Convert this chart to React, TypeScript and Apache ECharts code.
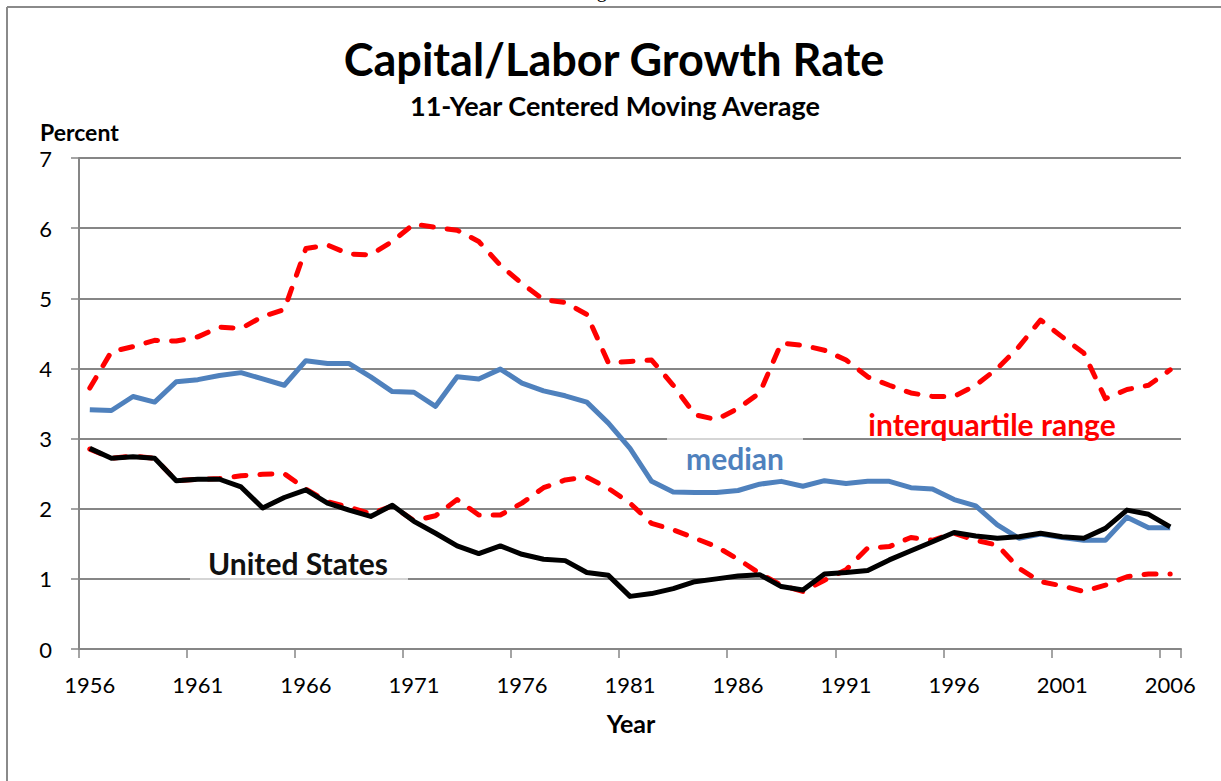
import React, { useEffect, useRef } from "react";
import * as echarts from "echarts";

const years = [
  "1956","1957","1958","1959","1960","1961","1962","1963","1964","1965",
  "1966","1967","1968","1969","1970","1971","1972","1973","1974","1975",
  "1976","1977","1978","1979","1980","1981","1982","1983","1984","1985",
  "1986","1987","1988","1989","1990","1991","1992","1993","1994","1995",
  "1996","1997","1998","1999","2000","2001","2002","2003","2004","2005","2006",
];

const median = [
  3.41, 3.40, 3.60, 3.52, 3.81, 3.84, 3.90, 3.94, 3.85, 3.76,
  4.11, 4.07, 4.07, 3.88, 3.67, 3.66, 3.46, 3.88, 3.85, 3.99,
  3.79, 3.68, 3.61, 3.52, 3.22, 2.86, 2.39, 2.24, 2.23, 2.23,
  2.26, 2.35, 2.39, 2.32, 2.40, 2.36, 2.39, 2.39, 2.30, 2.28,
  2.13, 2.04, 1.77, 1.58, 1.64, 1.59, 1.55, 1.55, 1.88, 1.73, 1.73,
];

const unitedStates = [
  2.86, 2.72, 2.74, 2.72, 2.40, 2.42, 2.42, 2.31, 2.01, 2.16,
  2.27, 2.08, 1.98, 1.89, 2.05, 1.82, 1.65, 1.47, 1.36, 1.47,
  1.35, 1.28, 1.26, 1.09, 1.05, 0.75, 0.79, 0.86, 0.96, 1.00,
  1.04, 1.06, 0.89, 0.84, 1.07, 1.09, 1.12, 1.27, 1.40, 1.53,
  1.66, 1.61, 1.58, 1.60, 1.65, 1.60, 1.58, 1.72, 1.98, 1.92, 1.74,
];

const iqrUpper = [
  3.72, 4.24, 4.31, 4.40, 4.39, 4.45, 4.59, 4.57, 4.74, 4.84,
  5.71, 5.76, 5.63, 5.62, 5.81, 6.06, 6.01, 5.97, 5.81, 5.47,
  5.21, 4.98, 4.94, 4.77, 4.08, 4.10, 4.12, 3.76, 3.34, 3.27,
  3.43, 3.65, 4.36, 4.33, 4.26, 4.12, 3.88, 3.76, 3.65, 3.60,
  3.60, 3.76, 4.00, 4.31, 4.69, 4.45, 4.22, 3.57, 3.70, 3.76, 3.98,
];

const iqrLower = [
  2.85, 2.72, 2.75, 2.72, 2.40, 2.42, 2.43, 2.47, 2.49, 2.50,
  2.28, 2.10, 2.02, 1.93, 2.04, 1.83, 1.90, 2.13, 1.91, 1.91,
  2.08, 2.30, 2.41, 2.45, 2.29, 2.08, 1.79, 1.70, 1.58, 1.46,
  1.28, 1.08, 0.91, 0.82, 0.98, 1.13, 1.44, 1.46, 1.59, 1.55,
  1.65, 1.55, 1.48, 1.15, 0.96, 0.90, 0.82, 0.91, 1.03, 1.07, 1.07,
];

const FONT = "Lato";
const GRID_COLOR = "#868686";
const BLUE = "#4f81bd";
const RED = "#ff0000";

export default function App() {
  const ref = useRef<HTMLDivElement>(null);

  useEffect(() => {
    document.body.style.margin = "0";
    if (!ref.current) return;
    const chart = echarts.init(ref.current, null, { renderer: "svg" });

    const dashed = {
      color: RED,
      width: 5,
      type: [12, 14] as any,
      cap: "round" as const,
      join: "round" as const,
    };

    const txt = (
      text: string,
      x: number,
      y: number,
      size: number,
      fill: string,
      align: string = "center"
    ) => ({
      type: "text",
      z: 10,
      x,
      y,
      style: {
        text,
        font: `bold ${size}px ${FONT}`,
        fill,
        textAlign: align,
        textVerticalAlign: "middle",
      },
    });

    chart.setOption({
      animation: false,
      backgroundColor: "#ffffff",
      grid: { left: 79, right: 40, top: 158, bottom: 132, containLabel: false },
      xAxis: {
        type: "category",
        data: years,
        boundaryGap: true,
        axisLine: { show: true, lineStyle: { color: GRID_COLOR, width: 2 } },
        axisTick: {
          show: true,
          interval: 4,
          length: 9,
          lineStyle: { color: GRID_COLOR, width: 1.5 },
        },
        axisLabel: {
          interval: 4,
          margin: 24,
          fontFamily: FONT,
          fontSize: 22,
          color: "#000",
        },
        splitLine: { show: false },
      },
      yAxis: {
        type: "value",
        min: 0,
        max: 7,
        interval: 1,
        axisLine: { show: true, lineStyle: { color: GRID_COLOR, width: 2 } },
        axisTick: {
          show: true,
          length: 8,
          lineStyle: { color: GRID_COLOR, width: 1.5 },
        },
        axisLabel: {
          margin: 27,
          fontFamily: FONT,
          fontSize: 22,
          color: "#000",
        },
        splitLine: { show: true, lineStyle: { color: GRID_COLOR, width: 2 } },
      },
      series: [
        {
          name: "interquartile range (lower)",
          type: "line",
          data: iqrLower,
          showSymbol: false,
          symbol: "none",
          lineStyle: dashed,
          z: 2,
        },
        {
          name: "interquartile range (upper)",
          type: "line",
          data: iqrUpper,
          showSymbol: false,
          symbol: "none",
          lineStyle: dashed,
          z: 2,
        },
        {
          name: "median",
          type: "line",
          data: median,
          showSymbol: false,
          symbol: "none",
          lineStyle: { color: BLUE, width: 5, join: "round" },
          z: 3,
        },
        {
          name: "United States",
          type: "line",
          data: unitedStates,
          showSymbol: false,
          symbol: "none",
          lineStyle: { color: "#000", width: 5, join: "round" },
          z: 4,
        },
      ],
      graphic: [
        {
          type: "line",
          z: 10,
          shape: { x1: 7, y1: 7, x2: 1221, y2: 7 },
          style: { stroke: "#8a8a8a", lineWidth: 2 },
        },
        {
          type: "line",
          z: 10,
          shape: { x1: 7, y1: 7, x2: 7, y2: 781 },
          style: { stroke: "#8a8a8a", lineWidth: 2 },
        },
        {
          type: "text",
          z: 10,
          x: 580,
          y: -10,
          style: {
            text: "Figure 10",
            font: "20px 'Liberation Serif'",
            fill: "#000",
            textAlign: "left",
            textVerticalAlign: "middle",
          },
        },
        txt("Capital/Labor Growth Rate", 614, 59, 45, "#000"),
        txt("11-Year Centered Moving Average", 615, 105, 27, "#000"),
        txt("Percent", 40, 132, 23, "#000", "left"),
        txt("Year", 631, 723, 25, "#000"),
        {
          type: "rect",
          z: 1,
          shape: { x: 667, y: 437, width: 136, height: 42 },
          style: { fill: "rgba(255,255,255,0.65)" },
        },
        {
          type: "rect",
          z: 1,
          shape: { x: 190, y: 545, width: 218, height: 37 },
          style: { fill: "rgba(255,255,255,0.65)" },
        },
        txt("median", 735, 458, 30, BLUE),
        txt("United States", 298, 563, 30, "#111"),
        txt("interquartile range", 992, 424, 30, RED),
      ],
    });

    return () => chart.dispose();
  }, []);

  return <div ref={ref} style={{ width: 1221, height: 781 }} />;
}
